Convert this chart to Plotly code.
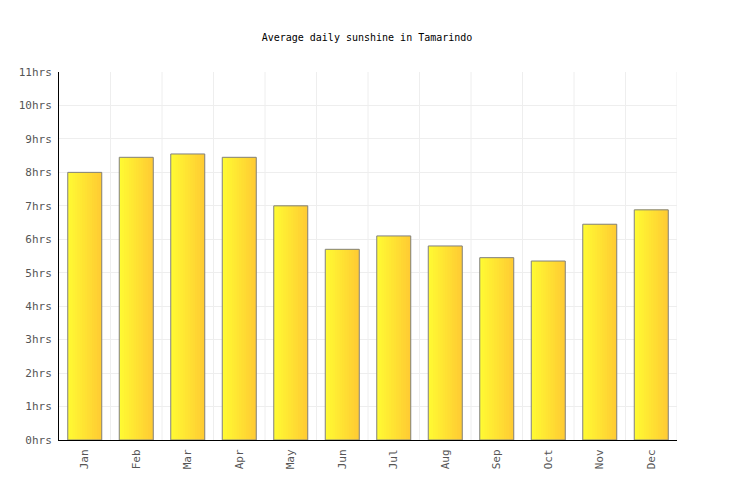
import numpy as np
import plotly.graph_objects as go

months = ['Jan', 'Feb', 'Mar', 'Apr', 'May', 'Jun', 'Jul', 'Aug', 'Sep', 'Oct', 'Nov', 'Dec']
sunshine_hrs = [8.0, 8.45, 8.55, 8.45, 7.0, 5.7, 6.1, 5.8, 5.45, 5.35, 6.45, 6.88]
y_ticks = list(range(0, 12))
y_labels = ['%dhrs' % v for v in y_ticks]

BAR_W = 0.66
N_SLICES = 14
LEFT = np.array([255, 250, 51])
RIGHT = np.array([255, 204, 51])

x_idx = np.arange(len(months))

fig = go.Figure()

# градиентная заливка: узкие полосы, наложенные друг на друга
w = BAR_W / N_SLICES
for i in range(N_SLICES):
    c = LEFT + (RIGHT - LEFT) * i / (N_SLICES - 1)
    last = i == N_SLICES - 1
    fig.add_trace(go.Bar(
        x=x_idx, y=sunshine_hrs,
        width=w if last else w * 2, offset=-BAR_W / 2 + i * w,
        marker=dict(color='rgb(%d,%d,%d)' % tuple(c), line=dict(width=0)),
        hoverinfo='skip', showlegend=False,
    ))

# контур столбцов
fig.add_trace(go.Bar(
    x=x_idx, y=sunshine_hrs,
    width=BAR_W, offset=-BAR_W / 2,
    marker=dict(color='rgba(0,0,0,0)', line=dict(color='#808080', width=1)),
    hovertemplate='%{customdata}: %{y}hrs<extra></extra>',
    customdata=months, showlegend=False,
))

fig.update_layout(
    barmode='overlay',
    width=736, height=500,
    margin=dict(l=51, r=67, t=64, b=68),
    plot_bgcolor='white', paper_bgcolor='white',
    font=dict(family='DejaVu Sans Mono', size=11, color='#555555'),
    title=dict(text='Average daily sunshine in Tamarindo', x=(367 - 8) / 736, xanchor='center',
               y=1 - 29 / 500, yanchor='middle', font=dict(size=10, color='#000000')),
)

# вертикальная сетка по границам категорий
fig.update_xaxes(
    range=[-0.5, len(months) - 0.5],
    tickmode='array', tickvals=x_idx, ticktext=months, tickangle=-90,
    showgrid=False, showline=True, linecolor='#000000', linewidth=1,
    ticks='outside', ticklen=4, tickcolor='rgba(0,0,0,0)', zeroline=False,
)
for k in range(1, len(months) + 1):
    fig.add_vline(x=k - 0.5, line=dict(color='#eeeeee', width=1), layer='below')

fig.update_yaxes(
    range=[0, 11], tickmode='array', tickvals=y_ticks, ticktext=y_labels,
    showgrid=True, gridcolor='#eeeeee', gridwidth=1,
    showline=True, linecolor='#000000', linewidth=1,
    ticks='outside', ticklen=4, tickcolor='rgba(0,0,0,0)', zeroline=False,
)

fig.write_html('out.html')
